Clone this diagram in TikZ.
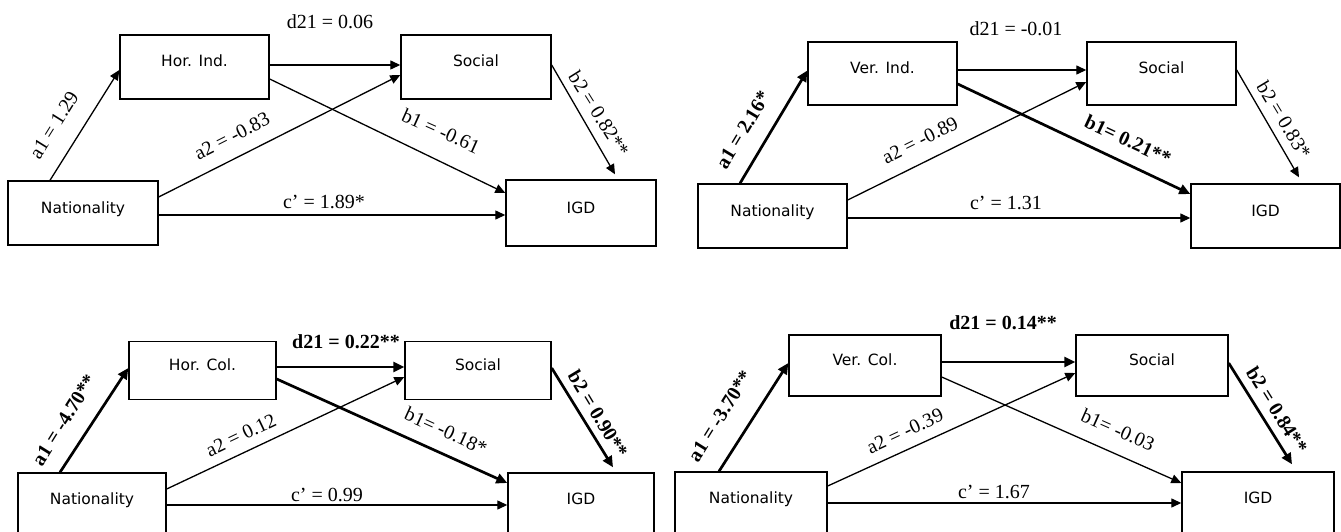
\documentclass[tikz,border=0pt]{standalone}
\usepackage{fontspec}
\setmainfont{Liberation Serif}
\newfontfamily\boxfont{DejaVu Sans}
\usetikzlibrary{arrows.meta}

\begin{document}
\begin{tikzpicture}[x=1pt, y=-1pt,
    box/.style={draw, line width=1.4pt, minimum width=150pt, minimum height=64pt,
        inner sep=0pt, text height=6pt, text depth=6pt,
        font=\boxfont\fontsize{15.5}{18}\selectfont},
    arr/.style={line width=1.3pt, -{Triangle[length=10pt, width=9pt]}},
    bold arr/.style={line width=2.7pt, -{Triangle[length=11pt, width=10pt]}},
    lab/.style={inner sep=0pt, font=\fontsize{20}{23}\selectfont},
    bold lab/.style={inner sep=0pt, font=\fontsize{20}{23}\selectfont\bfseries}]
    \useasboundingbox (0,0) rectangle (1341,532);
    \clip (0,0) rectangle (1341,532);

    \node[box] (nat1) at (83,213) {Nationality};
    \node[box, minimum width=149pt] (hi) at (194.5,67) {Hor. Ind.};
    \node[box] (soc1) at (476,67) {Social};
    \node[box, minimum height=66pt] (igd1) at (581,213) {IGD};
    \draw[arr] ([xshift=-33pt]nat1.north) -- ([yshift=-3pt]hi.west);
    \draw[arr] ([yshift=16pt]nat1.east) -- ([yshift=-8pt]soc1.west);
    \draw[arr] ([yshift=-2pt]nat1.east) -- ([yshift=-2pt]igd1.west);
    \draw[arr] ([yshift=2pt]hi.east) -- ([yshift=2pt]soc1.west);
    \draw[arr] ([yshift=-12pt]hi.east) -- ([yshift=20pt]igd1.west);
    \draw[arr] ([yshift=2pt]soc1.east) -- ([xshift=34pt, yshift=5pt]igd1.north);
    \node[lab] (d21a) at (330,22) {d21 = 0.06};
    \node[lab] (ca) at (324,202) {c’ = 1.89*};
    \node[lab, rotate=58] (a1a) at (54,125) {a1 = 1.29};
    \node[lab, rotate=27] (a2a) at (232,136) {a2 = -0.83};
    \node[lab, rotate=-24] (b1a) at (441,131) {b1 = -0.61};
    \node[lab, rotate=-58] (b2a) at (599,114) {b2 = 0.82**};

    \node[box, minimum width=149pt] (nat2) at (772.5,216) {Nationality};
    \node[box, minimum width=149pt, minimum height=63pt] (vi) at (882.5,73.5) {Ver. Ind.};
    \node[box, minimum width=149pt, minimum height=63pt] (soc2) at (1161.5,73.5) {Social};
    \node[box, minimum width=149pt] (igd2) at (1265.5,216) {IGD};
    \draw[bold arr] ([xshift=-32.5pt]nat2.north) -- ([yshift=3pt]vi.west);
    \draw[arr] ([yshift=16pt]nat2.east) -- ([yshift=-8.5pt]soc2.west);
    \draw[arr] ([yshift=-2pt]nat2.east) -- ([yshift=-2pt]igd2.west);
    \draw[arr] ([yshift=3.5pt]vi.east) -- ([yshift=3.5pt]soc2.west);
    \draw[bold arr] ([yshift=-10.5pt]vi.east) -- ([yshift=22pt]igd2.west);
    \draw[arr] ([yshift=3.5pt]soc2.east) -- ([xshift=33.5pt, yshift=6pt]igd2.north);
    \node[lab] (d21b) at (1016,29) {d21 = -0.01};
    \node[lab] (cb) at (1006,203) {c’ = 1.31};
    \node[bold lab, rotate=59] (a1b) at (743,130) {a1 = 2.16*};
    \node[lab, rotate=26.5] (a2b) at (920,140) {a2 = -0.89};
    \node[bold lab, rotate=-25] (b1b) at (1128,140) {b1= 0.21**};
    \node[lab, rotate=-59] (b2b) at (1284,120) {b2 = 0.83*};

    \node[box, minimum width=148pt, minimum height=62pt] (nat3) at (92,504) {Nationality};
    \node[box, minimum width=147pt, minimum height=58pt] (hc) at (202.5,370.5) {Hor. Col.};
    \node[box, minimum width=146pt, minimum height=58pt] (soc3) at (478,370.5) {Social};
    \node[box, minimum width=146pt, minimum height=62pt] (igd3) at (581,504) {IGD};
    \draw[bold arr] ([xshift=-32pt]nat3.north) -- ([yshift=2.5pt]hc.west);
    \draw[arr] ([yshift=15pt]nat3.east) -- ([yshift=-6.5pt]soc3.west);
    \draw[arr] ([yshift=-1pt]nat3.east) -- ([yshift=-1pt]igd3.west);
    \draw[bold arr] ([yshift=3.5pt]hc.east) -- ([yshift=3.5pt]soc3.west);
    \draw[bold arr] ([yshift=-8.5pt]hc.east) -- ([yshift=21pt]igd3.west);
    \draw[bold arr] ([yshift=2.5pt]soc3.east) -- ([xshift=32pt, yshift=5pt]igd3.north);
    \node[bold lab] (d21c) at (346,342) {d21 = 0.22**};
    \node[lab] (cc) at (327,495) {c’ = 0.99};
    \node[bold lab, rotate=58] (a1c) at (64,420) {a1 = -4.70**};
    \node[lab, rotate=25.5] (a2c) at (241,435) {a2 = 0.12};
    \node[lab, rotate=-24.5] (b1c) at (446,431) {b1= -0.18*};
    \node[bold lab, rotate=-59] (b2c) at (598,414) {b2 = 0.90**};

    \node[box, minimum width=152pt, minimum height=62pt] (nat4) at (751,503) {Nationality};
    \node[box, minimum width=152pt, minimum height=61pt] (vc) at (865,365.5) {Ver. Col.};
    \node[box, minimum width=152pt, minimum height=61pt] (soc4) at (1152,365.5) {Social};
    \node[box, minimum width=152pt, minimum height=62pt] (igd4) at (1258,503) {IGD};
    \draw[bold arr] ([xshift=-32pt]nat4.north) -- ([yshift=2.5pt]vc.west);
    \draw[arr] ([yshift=17pt]nat4.east) -- ([yshift=-7.5pt]soc4.west);
    \draw[arr] (nat4.east) -- (igd4.west);
    \draw[bold arr] ([yshift=3.5pt]vc.east) -- ([yshift=3.5pt]soc4.west);
    \draw[arr] ([yshift=-11.5pt]vc.east) -- ([yshift=20pt]igd4.west);
    \draw[bold arr] ([yshift=2.5pt]soc4.east) -- ([xshift=34pt, yshift=7pt]igd4.north);
    \node[bold lab] (d21d) at (1003,323) {d21 = 0.14**};
    \node[lab] (cd) at (994,492) {c’ = 1.67};
    \node[bold lab, rotate=58] (a1d) at (720,416) {a1 = -3.70**};
    \node[lab, rotate=25] (a2d) at (905,431) {a2 = -0.39};
    \node[lab, rotate=-24] (b1d) at (1118,430) {b1= -0.03};
    \node[bold lab, rotate=-58] (b2d) at (1277,410) {b2 = 0.84**};
\end{tikzpicture}
\end{document}
